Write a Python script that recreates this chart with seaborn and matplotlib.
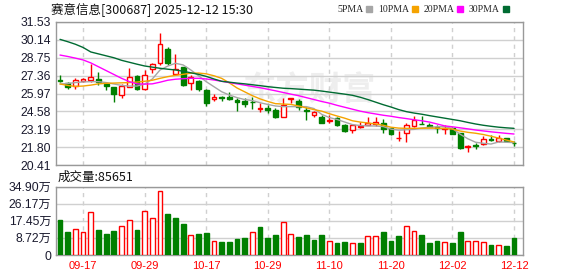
import numpy as np
import pandas as pd
import matplotlib
matplotlib.use("Agg")
import matplotlib.pyplot as plt
import seaborn as sns
from matplotlib.lines import Line2D

# ---------------- data ----------------
dates = ["09-12", "09-15", "09-16", "09-17", "09-18", "09-19", "09-22", "09-23", "09-24", "09-25",
         "09-26", "09-29", "09-30", "10-09", "10-10", "10-13", "10-14", "10-15", "10-16", "10-17",
         "10-20", "10-21", "10-22", "10-23", "10-24", "10-27", "10-28", "10-29", "10-30", "10-31",
         "11-03", "11-04", "11-05", "11-06", "11-07", "11-10", "11-11", "11-12", "11-13", "11-14",
         "11-17", "11-18", "11-19", "11-20", "11-21", "11-24", "11-25", "11-26", "11-27", "11-28",
         "12-01", "12-02", "12-03", "12-04", "12-05", "12-08", "12-09", "12-10", "12-11", "12-12"]

open_ = [27.02, 26.76, 26.55, 26.94, 27.05, 27.10, 26.71, 26.45, 25.85, 26.50,
         27.33, 26.35, 27.88, 28.32, 29.40, 27.46, 28.00, 26.76, 26.94, 26.24,
         25.58, 25.66, 25.71, 25.46, 25.35, 25.33, 24.78, 24.87, 24.69, 24.17,
         25.54, 25.41, 24.69, 24.30, 24.17, 23.85, 24.04, 23.52, 23.13, 23.36,
         23.52, 23.60, 23.70, 23.26, 22.52, 22.87, 23.44, 23.60, 23.52, 23.36,
         23.24, 23.26, 22.87, 21.80, 21.93, 22.01, 22.41, 22.30, 22.48, 22.13]
close = [26.92, 26.45, 27.00, 27.07, 27.23, 26.89, 26.53, 25.91, 26.55, 27.23,
         26.29, 27.38, 28.24, 29.82, 28.32, 27.85, 26.63, 27.28, 26.30, 25.21,
         25.66, 25.60, 25.56, 25.33, 25.15, 25.28, 24.85, 24.69, 24.17, 25.07,
         25.59, 24.95, 24.64, 24.51, 23.70, 23.91, 23.52, 23.08, 23.52, 23.41,
         23.70, 23.75, 23.18, 22.80, 22.54, 23.49, 23.91, 23.57, 23.39, 23.26,
         23.30, 22.82, 21.71, 21.86, 21.90, 22.45, 22.36, 22.54, 22.28, 22.09]
high = [27.41, 26.84, 27.15, 27.15, 28.26, 27.67, 26.89, 26.50, 26.71, 27.93,
        27.38, 27.80, 28.32, 30.70, 29.56, 29.04, 28.06, 27.41, 27.00, 26.29,
        25.93, 25.78, 26.11, 25.59, 25.59, 25.67, 25.20, 25.07, 24.82, 25.59,
        25.64, 25.51, 24.95, 24.64, 24.30, 24.30, 24.12, 23.60, 23.52, 23.78,
        24.12, 24.17, 23.96, 23.30, 23.08, 23.65, 24.22, 24.22, 23.65, 23.52,
        23.52, 23.39, 22.93, 21.99, 22.09, 22.66, 22.71, 22.75, 22.54, 22.30]
low = [26.90, 26.29, 26.29, 26.89, 26.89, 26.63, 26.24, 25.33, 25.65, 26.50,
       26.24, 26.22, 27.54, 28.19, 28.19, 27.41, 26.55, 26.24, 26.20, 24.98,
       25.39, 25.41, 25.49, 24.64, 24.89, 24.77, 24.56, 24.43, 24.04, 24.17,
       25.20, 24.69, 23.91, 24.12, 23.65, 23.65, 23.44, 23.00, 22.93, 23.26,
       23.52, 23.44, 22.93, 22.77, 22.30, 22.22, 23.39, 23.57, 23.34, 22.93,
       22.85, 22.82, 21.63, 21.40, 21.63, 21.94, 22.30, 22.22, 22.28, 21.86]

ma5 = [26.71, 26.75, 26.82, 26.87, 26.89, 26.89, 26.82, 26.71, 26.60, 26.55,
       26.55, 26.70, 27.10, 27.80, 28.10, 28.32, 28.19, 27.80, 27.35, 26.89,
       26.50, 26.11, 25.85, 25.65, 25.50, 25.42, 25.25, 25.12, 25.00, 24.95,
       24.95, 24.95, 24.95, 24.80, 24.35, 24.10, 23.95, 23.75, 23.55, 23.48,
       23.45, 23.44, 23.40, 23.20, 23.12, 23.15, 23.18, 23.28, 23.34, 23.38,
       23.39, 23.25, 22.80, 22.45, 22.18, 22.10, 22.04, 22.20, 22.18, 22.15]
ma10 = [26.71, 26.60, 26.52, 26.55, 26.62, 26.72, 26.76, 26.78, 26.80, 26.82,
        26.86, 26.92, 27.00, 27.15, 27.28, 27.38, 27.46, 27.55, 27.56, 27.50,
        27.35, 27.15, 26.80, 26.40, 26.10, 25.80, 25.55, 25.35, 25.18, 25.15,
        25.12, 25.00, 24.85, 24.72, 24.60, 24.40, 24.22, 24.05, 23.85, 23.75,
        23.68, 23.60, 23.50, 23.35, 23.28, 23.26, 23.26, 23.27, 23.28, 23.27,
        23.25, 23.20, 23.05, 22.95, 22.88, 22.78, 22.65, 22.50, 22.35, 22.20]
ma20 = [28.96, 28.85, 28.72, 28.58, 28.35, 28.05, 27.75, 27.45, 27.15, 26.90,
        26.72, 26.70, 26.72, 26.85, 27.00, 27.08, 27.12, 27.15, 27.15, 27.10,
        27.02, 26.92, 26.82, 26.72, 26.62, 26.52, 26.42, 26.30, 26.18, 26.05,
        25.92, 25.80, 25.65, 25.50, 25.35, 25.22, 25.05, 24.90, 24.75, 24.60,
        24.48, 24.38, 24.28, 24.20, 24.10, 24.02, 23.93, 23.85, 23.75, 23.60,
        23.45, 23.38, 23.30, 23.22, 23.13, 23.06, 22.99, 22.93, 22.87, 22.82]
ma30 = [30.18, 30.00, 29.80, 29.55, 29.20, 29.05, 28.90, 28.75, 28.55, 28.40,
        28.25, 28.11, 28.02, 27.93, 27.86, 27.80, 27.70, 27.58, 27.46, 27.30,
        27.10, 26.92, 26.85, 26.78, 26.72, 26.65, 26.58, 26.50, 26.44, 26.38,
        26.35, 26.31, 26.27, 26.23, 26.16, 26.08, 26.00, 25.92, 25.83, 25.68,
        25.50, 25.30, 25.10, 24.92, 24.72, 24.56, 24.45, 24.36, 24.25, 24.15,
        24.05, 23.95, 23.85, 23.72, 23.60, 23.50, 23.42, 23.35, 23.30, 23.26]

volume = [179000, 119000, 133000, 117000, 218000, 128000, 107000, 123000, 146000, 177000,
          128000, 223000, 189000, 325000, 209000, 191000, 158000, 100000, 107000, 111000,
          71000, 66000, 66000, 82000, 87000, 117000, 145000, 87000, 102000, 167000,
          106000, 92000, 102000, 77000, 102000, 70000, 61000, 66000, 60000, 61000,
          95000, 95000, 117000, 71000, 97000, 146000, 121000, 102000, 61000, 71000,
          65000, 61000, 117000, 71000, 71000, 66000, 51000, 51000, 46000, 85651]
vol_up = [0, 0, 1, 1, 1, 0, 0, 0, 1, 1, 0, 1, 1, 1, 0, 0, 0, 1, 0, 0,
          1, 0, 0, 0, 0, 1, 0, 0, 0, 1, 1, 0, 0, 0, 0, 1, 0, 0, 1, 0,
          1, 1, 0, 0, 0, 1, 1, 0, 0, 0, 1, 0, 0, 1, 1, 1, 0, 1, 0, 0]

price_ticks = [20.41, 21.80, 23.19, 24.58, 25.97, 27.36, 28.75, 30.14, 31.53]
vol_ticks = [0, 87250, 174500, 261750, 349000]
vol_tick_labels = ["0", "8.72万", "17.45万", "26.17万", "34.90万"]
date_ticks = ["09-17", "09-29", "10-17", "10-29", "11-10", "11-20", "12-02", "12-12"]
ma_names = ["5PMA", "10PMA", "20PMA", "30PMA"]

title = "赛意信息[300687] 2025-12-12 15:30"
vol_title = "成交量:85651"

# ---------------- styling ----------------
sns.set_theme(style="white")
plt.rcParams["font.family"] = ["Liberation Sans", "Noto Sans CJK SC", "DejaVu Sans"]

RED = "#ff0000"
GREEN = "#007f00"
ma_colors = ["#a6a6a6", "#f5a300", "#ff00ff", "#006b32"]
GRID = "#d0d0d0"
SPINE = "#999999"

W, H = 578, 276
fig = plt.figure(figsize=(W / 100, H / 100), dpi=100)

def fx(px):
    return px / W

def fy(py):
    return 1 - py / H

ax = fig.add_axes([fx(56), fy(165), fx(522.5) - fx(56), fy(22) - fy(165)])
axv = fig.add_axes([fx(56), fy(255), fx(522.5) - fx(56), fy(186.5) - fy(255)])

n = len(dates)
xs = np.arange(n)
df = pd.DataFrame({"x": xs, "open": open_, "close": close, "high": high, "low": low,
                   "ma5": ma5, "ma10": ma10, "ma20": ma20, "ma30": ma30,
                   "volume": volume, "vol_up": vol_up})

xlim = (-0.52, n - 1 + 1.1)
tick_pos = [dates.index(d) for d in date_ticks]

for a in (ax, axv):
    a.set_xlim(*xlim)
    a.set_facecolor("white")
    for s in a.spines.values():
        s.set_color(SPINE)
        s.set_linewidth(1.0)
    a.set_xticks(tick_pos)
    a.set_axisbelow(True)
    a.grid(axis="y", color=GRID, lw=1.0, ls="-")
    a.grid(axis="x", color=GRID, lw=1.0, ls=(0, (3, 3)))
    a.tick_params(length=0, pad=3.5)

# watermark
ax.text(32.3, 26.15, "东方财富", fontsize=24, color="#eeeeee", ha="center", va="center",
        family=["Noto Sans CJK SC"], fontweight="bold", zorder=0.5)

# candles
up = df["close"] >= df["open"]
wick_colors = np.where(up, RED, GREEN)
ax.vlines(df["x"], df["low"], df["high"], colors=wick_colors, lw=1.0, zorder=2)
body_bottom = np.minimum(df["open"], df["close"])
body_h = np.maximum(np.abs(df["close"] - df["open"]), 0.02)
ax.bar(df["x"], body_h, bottom=body_bottom, width=0.62,
       facecolor=np.where(up, "white", GREEN), edgecolor=wick_colors, lw=1.0, zorder=3)

# moving averages
for col, c in zip(["ma5", "ma10", "ma20", "ma30"], ma_colors):
    sns.lineplot(data=df, x="x", y=col, ax=ax, color=c, lw=1.0, zorder=4)

ax.set_ylim(price_ticks[0], price_ticks[-1])
ax.set_yticks(price_ticks)
ax.set_yticklabels([f"{v:.2f}" for v in price_ticks], fontsize=8.7, color="#1a1a2e")
ax.set_xticklabels([])
ax.set_xlabel("")
ax.set_ylabel("")

# volume
vu = df["vol_up"] == 1
axv.bar(df["x"], df["volume"], width=0.62, facecolor=np.where(vu, "white", GREEN),
        edgecolor=np.where(vu, RED, GREEN), lw=1.0, zorder=3)
axv.set_ylim(0, vol_ticks[-1])
axv.set_yticks(vol_ticks)
axv.set_yticklabels(vol_tick_labels, fontsize=8.7, color="#1a1a2e")
axv.set_xticklabels(date_ticks, fontsize=8, color=RED)
axv.tick_params(axis="x", pad=4)
axv.set_xlabel("")
axv.set_ylabel("")

# texts
fig.text(fx(51), fy(10), title, fontsize=9, ha="left", va="center",
         family=["Noto Sans CJK SC"], color="#111111")
fig.text(fx(58), fy(177.5), vol_title, fontsize=9, ha="left", va="center",
         family=["Noto Sans CJK SC"], color="#111111")

handles = [Line2D([], [], marker="s", ls="none", color=c, markersize=4.2) for c in ma_colors]
fig.legend(handles, ma_names, loc="center left", bbox_to_anchor=(fx(337), fy(10)),
           ncol=4, frameon=False, markerfirst=False, handlelength=0.7, handletextpad=0.3,
           columnspacing=0.5, borderpad=0, borderaxespad=0,
           prop={"family": "Liberation Serif", "size": 7})

fig.savefig("out.png", dpi=100)
